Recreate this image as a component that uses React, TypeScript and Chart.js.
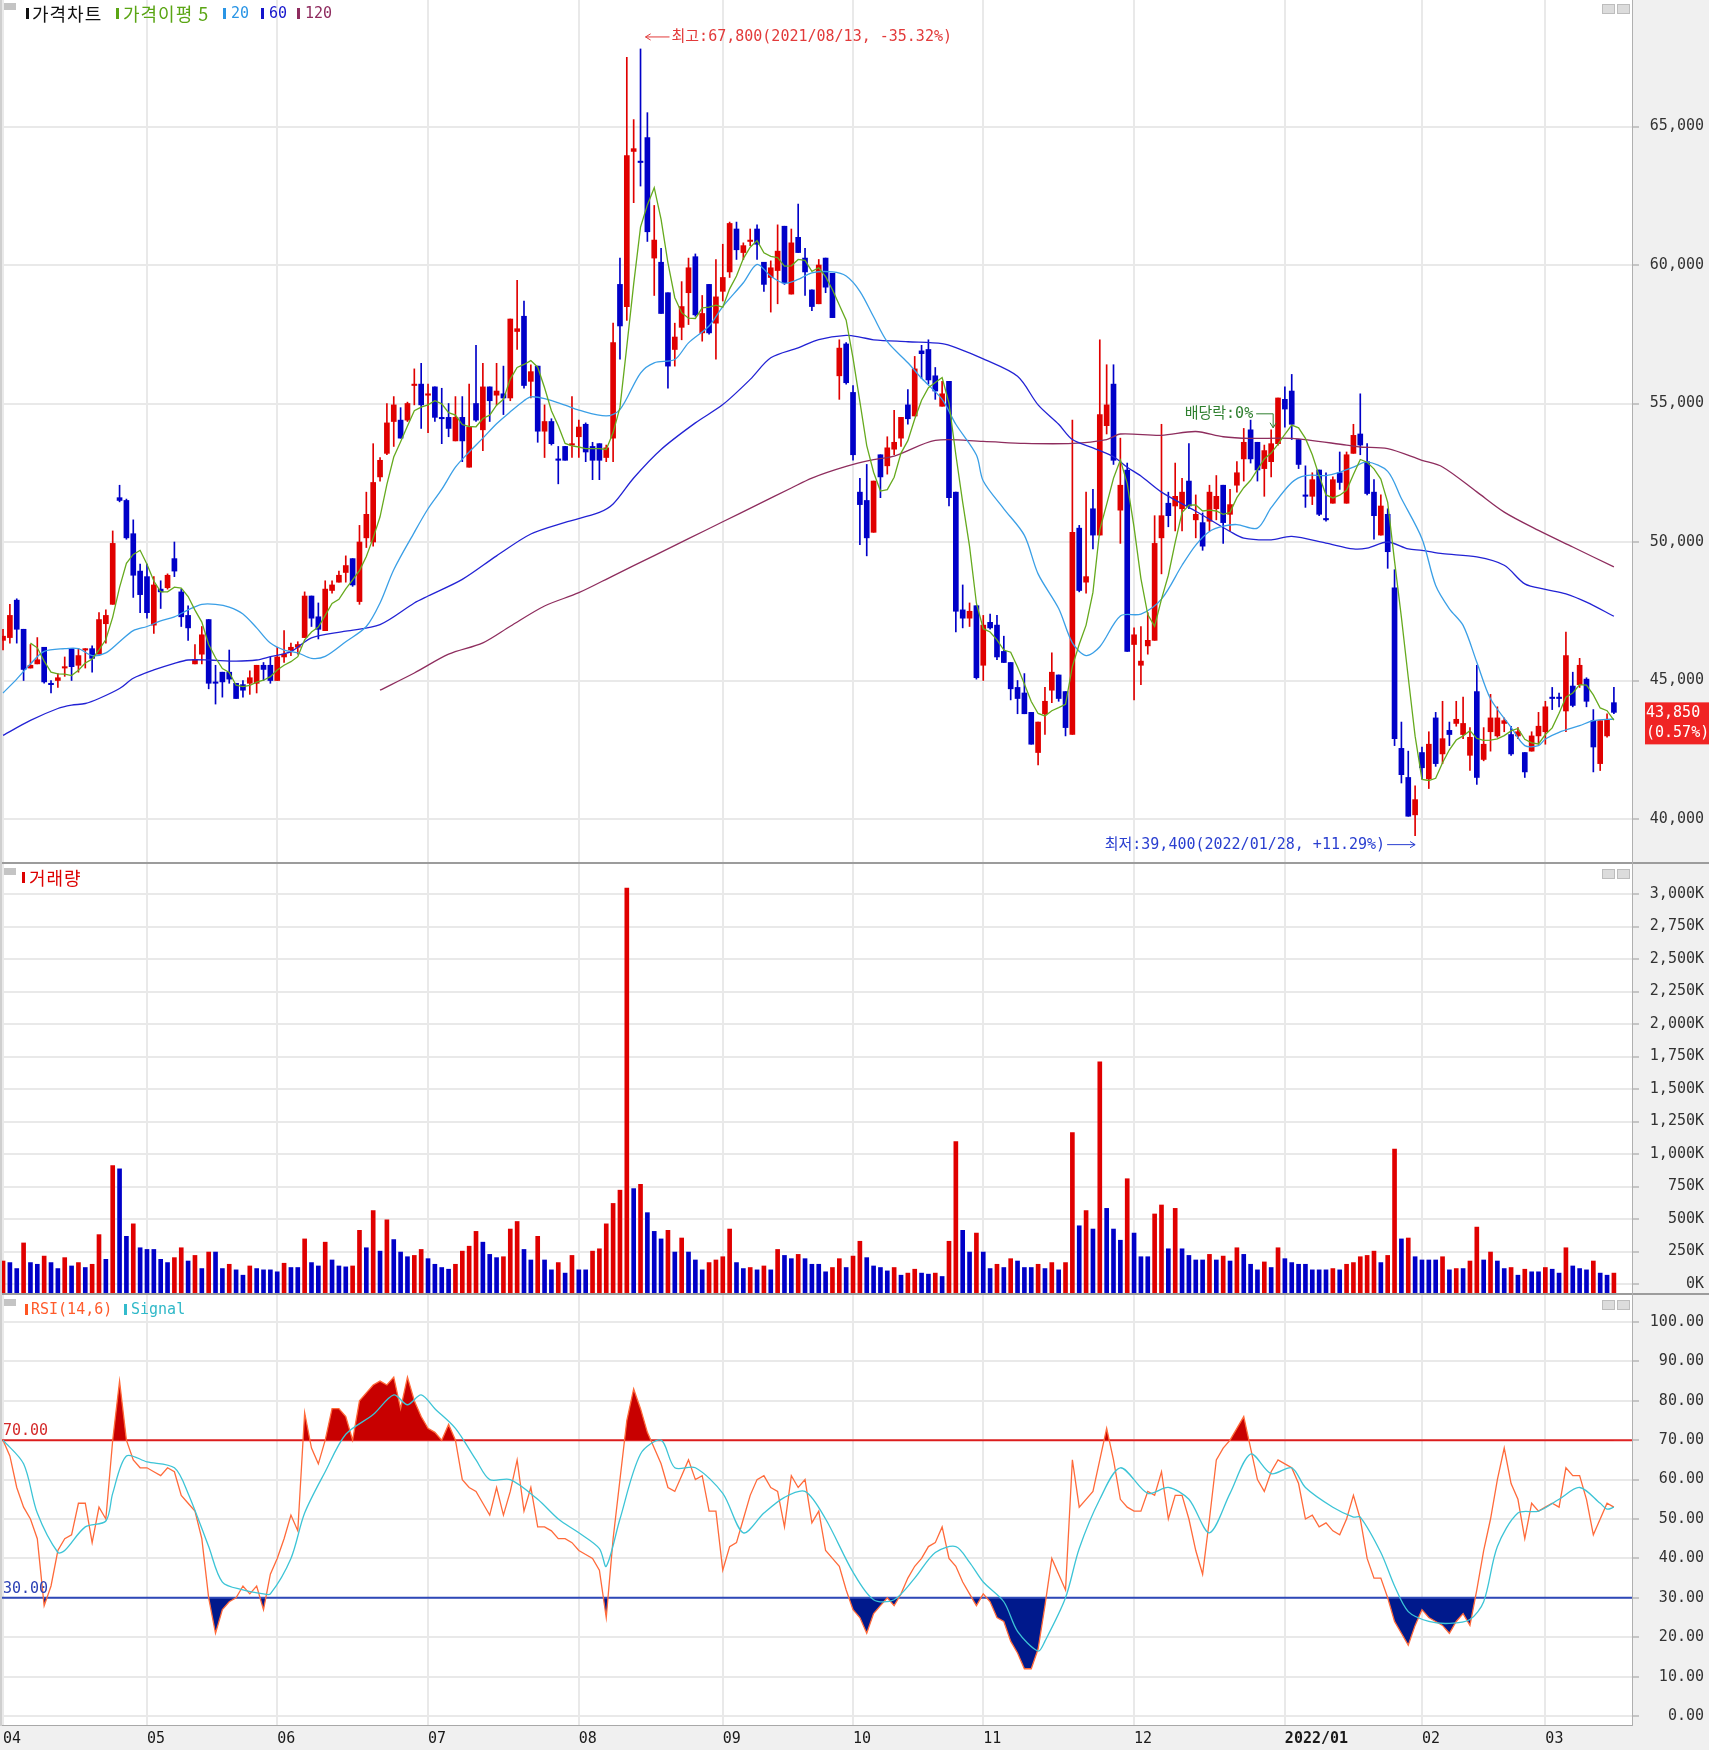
import React, { useEffect, useRef } from 'react';
import { Chart, registerables } from 'chart.js';

Chart.register(...registerables);

// ---------- month axis ----------
const MONTH_IDX = [0, 21, 40, 62, 84, 105, 124, 143, 165, 187, 207, 225];
const MONTH_LABELS = ['04', '05', '06', '07', '08', '09', '10', '11', '12', '2022/01', '02', '03'];

// ---------- daily candles (2021/04/02 .. 2022/03/17) ----------
const OPEN = [
  46450,46550,47900,46850,45450,45600,46200,44900,45000,45450,
  46150,45550,46100,46150,45950,47050,47750,51600,51500,50300,
  48950,48750,47000,48300,48350,49400,48200,47350,45600,45950,
  47200,44950,45300,45300,44900,44850,44900,44900,45550,45550,
  45000,45850,46100,46200,46550,48050,47300,46800,48250,48550,
  48900,49400,47850,50150,50000,52350,53200,54350,54400,54400,
  55650,55700,55300,55600,54500,54500,53650,54500,52700,55000,
  54050,55600,55300,55350,55200,57600,58150,55800,56350,54000,
  54350,53000,53450,53500,53800,54250,53450,53550,53050,53750,
  59300,58500,64100,63750,64600,60250,60100,59000,56950,57750,
  59000,60300,57550,59300,57900,59050,59750,61300,60450,60850,
  61300,60100,59550,59800,61400,58950,61000,60250,59100,58600,
  60250,59700,56000,57150,55400,51800,51500,50350,53150,52750,
  53350,53750,54950,54550,56900,56950,56000,54900,55800,51800,
  47550,47250,47700,45550,47100,47000,46050,45650,44750,44550,
  43850,42400,43800,44650,45200,44600,43050,50500,48550,51200,
  50250,54200,55700,51150,52600,46300,45550,46250,46450,50150,
  51400,51300,51200,52200,50800,50700,50750,51200,52050,51000,
  52050,53000,54050,53600,52650,52900,53550,55150,55450,53700,
  51700,51650,52600,50850,51400,52500,51400,53200,53900,52900,
  51800,50250,51000,48350,42550,41500,40150,42400,41450,43650,
  42350,43200,43450,43050,42300,44600,42150,43150,43000,43450,
  43050,43000,42400,42450,43000,43150,44400,44400,43900,44800,
  44850,45050,43550,42000,43000,44200,
];
const HIGH = [
  46850,47750,47950,46850,46300,46550,46200,45000,45250,45850,
  46150,46150,46150,46250,47450,47550,50400,52050,51550,50800,
  49200,49200,48750,48600,48850,50000,48300,47700,46300,46950,
  47200,45550,45300,46100,44900,45000,45350,45550,45650,45850,
  46200,46800,46350,46400,48200,48050,47800,48600,48600,48950,
  49500,49400,50600,51800,53550,53050,55000,55250,54850,55050,
  56250,56450,55700,55600,55550,55000,55250,55250,55700,57100,
  56450,55600,56450,56350,58050,59450,58700,56400,56350,54950,
  54450,53450,53450,55250,54400,54300,53600,53550,53500,57900,
  60250,67500,65250,67800,65500,62150,60600,59000,57900,59400,
  60250,60400,58900,59300,60200,60750,61550,61550,60800,61300,
  61450,60100,60150,61450,61400,61300,62200,60600,59100,60200,
  60250,59700,57300,57200,55650,52300,52800,52200,53150,53800,
  54750,54500,55500,56700,57100,57300,56300,55800,55800,51800,
  48450,47800,47700,47350,47400,47350,46600,45650,45000,45250,
  43850,43500,44750,46000,45200,44600,54400,50600,51800,51900,
  57300,56400,56400,53750,52850,46900,46950,47450,50950,54250,
  51800,52850,52300,53550,51700,51050,52050,52400,52050,51900,
  52900,54100,54400,53600,53500,54050,55200,55600,56050,53700,
  52750,52500,52600,52500,52350,53250,53250,54250,55350,53550,
  52250,51700,51200,49000,43500,42450,41200,42600,43150,43850,
  44250,43500,44250,44400,43300,45550,43300,44500,44050,43650,
  43350,43300,42400,43150,43850,44250,44750,44550,46750,45300,
  45800,45100,43950,43550,43800,44750,
];
const LOW = [
  46100,46350,46350,45000,45450,45600,44900,44550,44750,45150,
  45000,45300,45450,45300,45950,46350,47750,51450,50100,48000,
  47450,47250,46700,47600,48300,48750,46950,46450,45600,45600,
  44700,44150,44400,44900,44350,44400,44500,44550,45000,44900,
  45000,45650,45900,45950,46550,46950,46500,46800,48150,48550,
  48550,48400,47750,49800,49850,52200,53150,53450,53750,54350,
  54950,54100,53950,54350,53550,53800,53650,52900,52700,54350,
  53300,54350,54950,54600,55100,56950,55550,55200,53600,53050,
  53500,52100,52950,53050,53050,52900,52250,52250,52900,52900,
  56600,58000,62250,62850,60850,58900,58250,55550,56350,57300,
  57850,58150,57250,57500,56600,58700,59550,60200,60200,60700,
  60200,59050,58300,58600,59300,58950,60450,58900,58350,58600,
  59000,58100,55150,55700,52950,49900,49500,50350,51600,52450,
  53150,53450,54250,54550,55900,55700,55150,54900,51300,46750,
  46900,46950,45050,45000,46850,45750,45650,44300,43800,43800,
  42700,41950,43050,44200,44250,43000,43050,48200,48150,49750,
  50250,53900,52800,49950,46050,44300,44850,45950,46450,48850,
  50550,50400,50400,51200,50150,49700,50400,50800,49950,50400,
  51800,52200,52850,52200,51650,52350,53500,54150,53700,52650,
  51250,51350,50950,50750,51400,51900,51400,53200,53150,51700,
  50100,50250,49050,42650,41300,40100,39400,41450,41100,41900,
  42000,42650,43350,42900,41750,41250,42100,42450,42950,43150,
  42300,42900,41500,42450,42700,42700,43950,44050,43150,44050,
  44750,44050,41700,41750,42950,43800,
];
const CLOSE = [
  46600,47350,46850,45400,45550,45750,44950,44850,45100,45500,
  45500,45900,46150,45800,47200,47350,49950,51500,50150,48800,
  48100,47450,48450,48200,48800,48950,47300,46900,45750,46650,
  44900,44900,44950,45050,44350,44650,45100,45550,45400,45000,
  45850,45950,46200,46300,48050,47250,46850,48300,48450,48800,
  49150,48450,50000,51000,52150,52950,54300,54950,53750,55000,
  55700,54950,55350,54500,54450,54100,54500,53650,54150,54400,
  55600,55100,55450,55200,58050,57700,55650,56150,54000,54350,
  53550,52950,52950,53550,54150,53250,52950,52950,53400,57200,
  57800,63950,64200,63700,61200,60900,58250,56350,57400,58500,
  59900,58200,58250,57550,58850,59550,61500,60550,60700,60900,
  60750,59300,59900,60500,59350,60800,60450,59750,58500,60000,
  59200,58100,57000,55750,53150,51350,50150,52200,52350,53400,
  53600,54500,54450,56250,56800,55850,55450,55350,51600,47500,
  47250,47500,45100,47000,46900,45850,45650,44700,44350,43800,
  42700,43500,44250,45300,44350,43300,50350,48250,48750,50250,
  54600,54950,52950,52050,46050,46650,45700,46450,49950,50950,
  50950,51650,51800,51300,51000,49850,51800,51650,50700,51350,
  52500,53600,53000,52600,53300,53550,55200,54800,54250,52800,
  51650,52250,51000,50800,52250,52150,53150,53850,53500,51750,
  50950,51300,49650,42900,41600,40100,40700,41850,42700,42000,
  42900,43050,43600,43450,42950,41500,42700,43650,43650,43550,
  42350,43150,41700,43000,43350,44050,44350,44350,45900,44100,
  45550,44250,42600,43550,43600,43850,
];

// ---------- volume (thousand shares) ----------
const VOLUME_K = [
  177,165,119,316,165,152,215,165,119,203,
  139,165,127,152,380,190,912,886,367,463,
  279,266,266,190,165,203,279,177,220,119,
  246,246,119,152,109,68,139,119,109,109,
  94,160,127,127,347,165,139,322,185,139,
  132,139,413,279,565,253,494,342,246,210,
  220,266,195,152,127,114,152,253,291,405,
  322,228,203,210,423,481,266,185,367,185,
  109,165,84,220,109,109,253,271,463,620,
  722,3046,734,767,549,405,347,413,246,354,
  246,185,109,165,185,210,423,165,119,127,
  109,139,109,266,220,195,228,195,152,152,
  94,127,195,127,215,329,203,139,127,101,
  127,68,84,114,84,76,84,58,329,1096,
  413,246,392,246,119,152,127,195,177,127,
  127,152,119,165,109,165,1165,448,565,423,
  1709,582,423,337,810,392,210,210,539,608,
  271,582,271,220,185,185,228,185,215,177,
  279,228,152,109,170,127,279,195,165,152,
  152,109,109,109,119,109,152,165,210,220,
  253,165,220,1038,347,354,210,185,185,185,
  210,109,119,119,177,438,185,246,177,119,
  127,68,114,94,94,127,114,84,279,139,
  119,109,177,84,68,84,
];

// ---------- RSI(14) and its signal ----------
const RSI = [
  70,66,58,53,50,45,28,33,42,45,
  46,54,54,44,53,50,70,85,70,65,
  63,63,62,61,63,62,56,54,52,45,
  30,21,27,29,30,33,31,33,27,36,
  40,45,51,47,77,68,64,70,78,78,
  76,70,80,82,84,85,84,86,78,86,
  80,76,73,72,70,74,70,60,58,57,
  54,51,58,51,57,65,52,58,48,48,
  47,45,45,44,42,41,40,37,25,45,
  60,75,83,78,72,68,64,58,57,61,
  65,60,61,52,52,37,43,44,50,56,
  60,61,58,57,48,61,58,60,49,52,
  42,40,38,32,27,25,21,26,28,30,
  28,31,35,38,40,43,44,48,40,38,
  34,31,28,31,29,25,24,19,16,12,
  12,17,28,40,36,32,65,53,55,57,
  65,73,65,55,53,52,52,57,56,62,
  50,56,56,50,42,36,50,65,68,70,
  73,76,68,60,57,62,65,64,63,59,
  50,51,48,49,47,46,50,56,50,40,
  35,35,30,24,21,18,23,27,25,24,
  23,21,24,26,23,32,42,50,60,68,
  59,55,45,54,52,53,54,53,63,61,
  61,55,46,50,54,53,
];
const SIGNAL_IDX = [0,3,5,8,9,12,15,16,18,21,25,27,30,32,35,38,39,42,44,47,50,54,57,59,61,63,66,69,71,74,78,81,84,87,88,90,93,96,98,101,105,108,111,114,117,120,124,127,130,133,136,139,141,143,146,148,151,152,155,157,160,163,167,170,173,176,179,182,185,188,190,194,197,198,201,203,205,208,211,214,216,218,221,224,227,230,233,234,235];
const SIGNAL_VAL = [70,64,51.5,41.5,42,48,49.5,56.5,66,64.5,63,56.5,43,34,32,31,31,40,51.5,62,71.5,76.5,81.5,79,81.5,78,73,65,60,60,55,50,46.5,42.5,38,50,66.5,70,63,63,56.5,46.5,51.5,55.5,57,50,36.5,29.5,29.5,35,41.5,43,39,34,29,21.5,16.5,19,30,42.5,55,63,56.5,58,55,46.5,56.5,66.5,61.5,63,58,53,50.5,50.5,41.5,33,26.5,24,23.5,24.5,29,43,51.5,52,55,58,54,52.5,53];

// ---------- moving averages ----------
const MA20_IDX = [0,2,4,6,9,11,13,15,17,19,21,23,25,27,29,31,33,35,37,39,41,43,45,47,50,53,55,57,60,62,64,66,68,70,72,74,76,77,79,82,84,88,90,93,95,98,100,103,105,108,110,112,114,116,118,121,123,125,127,129,132,134,137,139,142,143,146,149,151,154,156,158,160,163,166,169,172,174,176,178,180,183,185,188,190,193,195,197,199,202,204,207,209,211,213,215,217,220,222,224,225,227,230,232,235];
const MA20_VAL = [44550,45050,45600,46050,46150,46150,45900,46000,46400,46800,46950,47150,47300,47550,47750,47750,47650,47400,46900,46350,46100,46000,45800,45870,46400,46950,47800,49000,50350,51200,51900,52700,53250,53750,54270,54700,55100,55240,55180,54940,54760,54550,54780,56100,56470,56590,57190,57800,58500,59360,60020,59600,59340,59480,59720,59750,59600,59050,58130,57230,56470,55910,55150,54250,53140,52200,51200,50240,48850,47600,46360,45900,46220,47330,47400,47940,49160,49890,50380,50570,50630,50500,51240,52150,52400,52400,52520,52700,52890,52550,51570,50120,48430,47590,46990,45660,44340,43310,42650,42650,42890,43130,43370,43550,43610];
const MA60_IDX = [0,4,8,10,12,14,17,19,22,25,27,30,34,37,39,42,45,50,55,60,62,67,72,77,82,87,89,92,96,101,105,109,112,116,119,123,125,127,132,137,139,143,148,151,154,156,159,162,164,166,169,174,179,181,185,188,193,197,199,202,205,207,210,215,219,222,225,228,231,235];
const MA60_VAL = [43020,43560,43990,44110,44170,44350,44710,45080,45380,45620,45740,45740,45700,45740,45860,46040,46540,46780,47020,47800,48050,48650,49500,50290,50710,51070,51370,52310,53340,54300,54960,55870,56650,57010,57310,57460,57400,57300,57230,57160,57020,56610,55980,54950,54250,53700,53400,53080,52700,52380,51800,51110,50380,50140,50080,50200,49960,49750,49780,50000,49750,49700,49580,49460,49160,48490,48290,48130,47830,47320];
const MA120_IDX = [55,60,65,70,74,79,84,89,95,100,105,110,115,118,123,127,130,136,143,149,156,161,163,169,174,178,182,188,196,198,202,207,210,215,219,224,229,235];
const MA120_VAL = [44650,45270,45950,46360,46960,47690,48170,48780,49510,50120,50730,51340,51950,52310,52730,52970,53100,53670,53630,53560,53560,53700,53900,53850,53990,53800,53740,53740,53500,53430,53370,52950,52710,51810,51080,50420,49820,49100];

// ---------- axes ----------
const PRICE_TICKS = [40000, 45000, 50000, 55000, 60000, 65000];
const VOLUME_TICKS = [0, 250, 500, 750, 1000, 1250, 1500, 1750, 2000, 2250, 2500, 2750, 3000];
const RSI_TICKS = [0, 10, 20, 30, 40, 50, 60, 70, 80, 90, 100];
const RSI_HIGH = 70;
const RSI_LOW = 30;
const HIGH_DATE = '2021/08/13';
const LOW_DATE = '2022/01/28';
const EXDIV_IDX = 185;
const EXDIV_TEXT = '배당락:0%';

const PRICE_MIN = 38448, PRICE_MAX = 69567;
const VOL_MIN = -69, VOL_MAX = 3231;
const RSI_MIN = -2.28, RSI_MAX = 106.85;
const X_MIN = -0.15, X_MAX = 237.64;

const MONO = '"DejaVu Sans Mono", "Noto Sans CJK KR", monospace';
const GRID = '#e9e9e9';
const UP = '#e00000';
const DOWN = '#0000c8';
const N = CLOSE.length;

const pts = (idx: number[], val: number[]) => idx.map((x, k) => ({ x, y: val[k] }));
const fmtN = (v: number) => v.toLocaleString('en-US');

function xAxis(labels: boolean): any {
  return {
    type: 'linear',
    min: X_MIN,
    max: X_MAX,
    offset: false,
    afterBuildTicks: (s: any) => { s.ticks = MONTH_IDX.map((v) => ({ value: v })); },
    afterFit: (s: any) => {
      s.height = labels ? 25 : 0;
      s.paddingLeft = 0;
      s.paddingRight = 0;
      s.paddingTop = 0;
      s.paddingBottom = 0;
    },
    grid: { color: GRID, lineWidth: 2, drawTicks: false, offset: false },
    border: { display: false },
    ticks: labels
      ? {
          autoSkip: false,
          maxRotation: 0,
          minRotation: 0,
          align: 'start',
          labelOffset: 0,
          padding: 5,
          color: '#1a1a1a',
          font: (c: any) => ({ family: MONO, size: 15, weight: c && c.tick && c.tick.value === 187 ? 'bold' : 'normal' }),
          callback: (v: number) => { const k = MONTH_IDX.indexOf(v); return k >= 0 ? MONTH_LABELS[k] : ''; },
        }
      : { display: false },
  };
}

function yAxis(min: number, max: number, ticks: number[], fmt: (v: number) => string): any {
  return {
    position: 'right',
    min,
    max,
    afterBuildTicks: (s: any) => { s.ticks = ticks.map((v) => ({ value: v })); },
    afterFit: (s: any) => {
      s.width = 72;
      s.paddingTop = 0;
      s.paddingBottom = 0;
      s.paddingLeft = 0;
      s.paddingRight = 0;
    },
    grid: { color: GRID, lineWidth: 2, tickColor: '#9a9a9a', tickLength: 7, tickWidth: 1 },
    border: { display: false },
    ticks: { crossAlign: 'far', padding: 9, color: '#333', font: { family: MONO, size: 15 }, callback: (v: number) => fmt(v) },
  };
}

const bgPlugin = {
  id: 'whiteArea',
  beforeDraw(chart: any) {
    const { ctx, chartArea: a } = chart;
    ctx.save();
    ctx.fillStyle = '#ffffff';
    ctx.fillRect(a.left, a.top, a.right - a.left, a.bottom - a.top);
    ctx.restore();
  },
};

function arrow(ctx: any, x1: number, y1: number, x2: number, y2: number) {
  ctx.beginPath();
  ctx.moveTo(x1, y1);
  ctx.lineTo(x2, y2);
  ctx.stroke();
  const a = Math.atan2(y2 - y1, x2 - x1);
  ctx.beginPath();
  ctx.moveTo(x2 - 6 * Math.cos(a - 0.55), y2 - 6 * Math.sin(a - 0.55));
  ctx.lineTo(x2, y2);
  ctx.lineTo(x2 - 6 * Math.cos(a + 0.55), y2 - 6 * Math.sin(a + 0.55));
  ctx.stroke();
}

const baseOptions = (): any => ({
  animation: false,
  responsive: false,
  devicePixelRatio: 1,
  events: [],
  layout: { padding: { left: 2, right: 5, top: 0, bottom: 0 } },
  plugins: { legend: { display: false }, tooltip: { enabled: false } },
});

function makePrice(canvas: HTMLCanvasElement) {
  const candleColors = CLOSE.map((c, i) => (c >= OPEN[i] ? UP : DOWN));
  const ma5 = CLOSE.map((_, i) => ({
    x: i,
    y: i >= 4 ? CLOSE.slice(i - 4, i + 1).reduce((s, v) => s + v, 0) / 5 : null,
  }));
  const last = CLOSE[N - 1];
  const hiIdx = HIGH.indexOf(Math.max(...HIGH));
  const loIdx = LOW.indexOf(Math.min(...LOW));
  const hiPct = ((last / HIGH[hiIdx] - 1) * 100).toFixed(2);
  const loPct = ((last / LOW[loIdx] - 1) * 100).toFixed(2);
  const dayPct = ((last / CLOSE[N - 2] - 1) * 100).toFixed(2);

  const notes = {
    id: 'priceNotes',
    afterDatasetsDraw(chart: any) {
      const { ctx, scales } = chart;
      const x = scales.x, y = scales.y;
      ctx.save();
      ctx.font = `15px ${MONO}`;
      ctx.textBaseline = 'middle';
      ctx.lineWidth = 1;
      // highest
      const hx = x.getPixelForValue(hiIdx);
      const hy = y.getPixelForValue(HIGH[hiIdx]) - 12;
      ctx.strokeStyle = '#e23a3a';
      ctx.fillStyle = '#e23a3a';
      arrow(ctx, hx + 29, hy, hx + 5, hy);
      ctx.textAlign = 'left';
      ctx.fillText(`최고:${fmtN(HIGH[hiIdx])}(${HIGH_DATE}, ${hiPct}%)`, hx + 31, hy);
      // lowest
      const lx = x.getPixelForValue(loIdx);
      const ly = y.getPixelForValue(LOW[loIdx]) + 9;
      ctx.strokeStyle = '#2a3fd0';
      ctx.fillStyle = '#2a3fd0';
      arrow(ctx, lx - 28, ly, lx, ly);
      ctx.textAlign = 'right';
      ctx.fillText(`최저:${fmtN(LOW[loIdx])}(${LOW_DATE}, +${loPct}%)`, lx - 30, ly);
      // ex-dividend
      const ex = x.getPixelForValue(EXDIV_IDX) + 2;
      const ey = y.getPixelForValue(HIGH[EXDIV_IDX]);
      ctx.strokeStyle = '#2f7f2f';
      ctx.fillStyle = '#2f7f2f';
      ctx.beginPath();
      ctx.moveTo(ex - 17, ey - 16);
      ctx.lineTo(ex, ey - 16);
      ctx.stroke();
      arrow(ctx, ex, ey - 16, ex, ey - 2);
      ctx.textAlign = 'right';
      ctx.fillText(EXDIV_TEXT, ex - 20, ey - 16);
      ctx.restore();
    },
    afterDraw(chart: any) {
      const { ctx, scales, chartArea } = chart;
      const yc = scales.y.getPixelForValue(last);
      const bx = chartArea.right + 13;
      ctx.save();
      ctx.fillStyle = '#f02424';
      ctx.fillRect(bx, yc - 10, 64, 42);
      ctx.fillStyle = '#ffffff';
      ctx.font = `15px ${MONO}`;
      ctx.textBaseline = 'middle';
      ctx.textAlign = 'left';
      ctx.fillText(fmtN(last), bx + 1, yc + 1);
      ctx.fillText(`(${dayPct}%)`, bx + 1, yc + 21);
      ctx.restore();
    },
  };

  return new Chart(canvas, {
    type: 'bar',
    data: {
      datasets: [
        { type: 'line', label: '5', data: ma5 as any, borderColor: '#66aa1e', borderWidth: 1.3, pointRadius: 0, tension: 0, order: 0 },
        { type: 'line', label: '20', data: pts(MA20_IDX, MA20_VAL), borderColor: '#3a9fe6', borderWidth: 1.3, pointRadius: 0, tension: 0.3, order: 0 },
        { type: 'line', label: '60', data: pts(MA60_IDX, MA60_VAL), borderColor: '#2222d4', borderWidth: 1.3, pointRadius: 0, tension: 0.3, order: 0 },
        { type: 'line', label: '120', data: pts(MA120_IDX, MA120_VAL), borderColor: '#8e2d5e', borderWidth: 1.3, pointRadius: 0, tension: 0.3, order: 0 },
        { type: 'bar', label: 'body', data: OPEN.map((o, i) => ({ x: i, y: [o, CLOSE[i]] })) as any, backgroundColor: candleColors, barThickness: 5, minBarLength: 1, grouped: false, order: 1 },
        { type: 'bar', label: 'wick', data: LOW.map((l, i) => ({ x: i, y: [l, HIGH[i]] })) as any, backgroundColor: candleColors, barThickness: 1, grouped: false, order: 2 },
      ],
    },
    options: {
      ...baseOptions(),
      scales: { x: xAxis(false), y: yAxis(PRICE_MIN, PRICE_MAX, PRICE_TICKS, fmtN) },
    },
    plugins: [bgPlugin, notes],
  } as any);
}

function makeVolume(canvas: HTMLCanvasElement) {
  const colors = VOLUME_K.map((v, i) => (i === 0 || v > VOLUME_K[i - 1] ? UP : DOWN));
  return new Chart(canvas, {
    type: 'bar',
    data: {
      datasets: [
        { label: '거래량', data: VOLUME_K.map((v, i) => ({ x: i, y: v })) as any, backgroundColor: colors, barThickness: 4, grouped: false, base: VOL_MIN } as any,
      ],
    },
    options: {
      ...baseOptions(),
      scales: { x: xAxis(false), y: yAxis(VOL_MIN, VOL_MAX, VOLUME_TICKS, (v) => fmtN(v) + 'K') },
    },
    plugins: [bgPlugin],
  } as any);
}

function makeRsi(canvas: HTMLCanvasElement) {
  const rsiPts = RSI.map((v, i) => ({ x: i, y: v }));
  const labels = {
    id: 'rsiLevels',
    afterDatasetsDraw(chart: any) {
      const { ctx, scales, chartArea } = chart;
      ctx.save();
      ctx.font = `15px ${MONO}`;
      ctx.textBaseline = 'middle';
      ctx.textAlign = 'left';
      ctx.fillStyle = '#d42a2a';
      ctx.fillText(RSI_HIGH.toFixed(2), chartArea.left + 1, scales.y.getPixelForValue(RSI_HIGH) - 9);
      ctx.fillStyle = '#2a40b4';
      ctx.fillText(RSI_LOW.toFixed(2), chartArea.left + 1, scales.y.getPixelForValue(RSI_LOW) - 9);
      ctx.restore();
    },
  };
  return new Chart(canvas, {
    type: 'line',
    data: {
      datasets: [
        { label: 'Signal', data: pts(SIGNAL_IDX, SIGNAL_VAL), borderColor: '#3cc4d6', borderWidth: 1.3, pointRadius: 0, tension: 0.3, fill: false, order: 0 },
        { label: 'RSI', data: rsiPts, borderColor: '#ff6a3a', borderWidth: 1.3, pointRadius: 0, tension: 0, order: 1,
          fill: { target: { value: RSI_HIGH }, above: '#c80000', below: 'rgba(0,0,0,0)' } },
        { label: 'hi', data: [{ x: X_MIN, y: RSI_HIGH }, { x: X_MAX, y: RSI_HIGH }], borderColor: '#e02424', borderWidth: 2, pointRadius: 0, fill: false, order: 2 },
        { label: 'lo', data: [{ x: X_MIN, y: RSI_LOW }, { x: X_MAX, y: RSI_LOW }], borderColor: '#2e48b8', borderWidth: 2, pointRadius: 0, fill: false, order: 3 },
        { label: 'RSI-low', data: rsiPts, borderColor: 'rgba(0,0,0,0)', borderWidth: 0, pointRadius: 0, tension: 0, order: 4,
          fill: { target: { value: RSI_LOW }, above: 'rgba(0,0,0,0)', below: '#00198c' } },
      ],
    },
    options: {
      ...baseOptions(),
      scales: { x: xAxis(true), y: yAxis(RSI_MIN, RSI_MAX, RSI_TICKS, (v) => v.toFixed(2)) },
    },
    plugins: [bgPlugin, labels],
  } as any);
}

const abs = (s: any): any => ({ position: 'absolute', ...s });

function LegendBar({ left, top, color }: any) {
  return <div style={abs({ left, top, width: 3, height: 11, background: color })} />;
}
function LegendText({ left, top, color, ko, children }: any) {
  return (
    <div
      style={abs({
        left,
        top,
        color,
        whiteSpace: 'nowrap',
        lineHeight: '20px',
        fontFamily: ko ? '"Noto Sans CJK KR", sans-serif' : MONO,
        fontSize: ko ? 18 : 15,
        letterSpacing: ko ? '1px' : '0px',
      })}
    >
      {children}
    </div>
  );
}
function PanelIcons({ top }: any) {
  const box = (left: number) => (
    <div style={abs({ left, top, width: 11, height: 8, background: '#dcdcdc', border: '1px solid #bdbdbd' })} />
  );
  return (
    <>
      <div style={abs({ left: 4, top: top - 1, width: 12, height: 7, background: '#c4c4c4' })} />
      {box(1602)}
      {box(1617)}
    </>
  );
}

export default function App() {
  const priceRef = useRef<HTMLCanvasElement>(null);
  const volRef = useRef<HTMLCanvasElement>(null);
  const rsiRef = useRef<HTMLCanvasElement>(null);

  useEffect(() => {
    document.body.style.margin = '0';
    document.body.style.background = '#f0f0f0';
    const charts = [makePrice(priceRef.current!), makeVolume(volRef.current!), makeRsi(rsiRef.current!)];
    return () => charts.forEach((c) => c.destroy());
  }, []);

  return (
    <div style={abs({ left: 0, top: 0, width: 1709, height: 1750, background: '#f0f0f0', overflow: 'hidden' })}>
      <canvas ref={priceRef} width={1709} height={862} style={abs({ left: 0, top: 0, width: 1709, height: 862 })} />
      <canvas ref={volRef} width={1709} height={429} style={abs({ left: 0, top: 864, width: 1709, height: 429 })} />
      <canvas ref={rsiRef} width={1709} height={455} style={abs({ left: 0, top: 1295, width: 1709, height: 455 })} />

      {/* frame lines */}
      <div style={abs({ left: 0, top: 862, width: 1709, height: 2, background: '#9c9c9c' })} />
      <div style={abs({ left: 0, top: 1293, width: 1709, height: 2, background: '#9c9c9c' })} />
      <div style={abs({ left: 0, top: 1725, width: 1633, height: 1, background: '#a8a8a8' })} />
      <div style={abs({ left: 1632, top: 0, width: 1, height: 1726, background: '#b0b0b0' })} />
      <div style={abs({ left: 0, top: 0, width: 2, height: 1726, background: '#cfcfcf' })} />

      {/* price legend */}
      <PanelIcons top={4} />
      <LegendBar left={26} top={8} color="#111" />
      <LegendText left={32} top={3} color="#111" ko>가격차트</LegendText>
      <LegendBar left={116} top={8} color="#5aa514" />
      <LegendText left={123} top={3} color="#5aa514" ko>가격이평 5</LegendText>
      <LegendBar left={223} top={8} color="#2a95e5" />
      <LegendText left={231} top={3} color="#2a95e5">20</LegendText>
      <LegendBar left={261} top={8} color="#1515cc" />
      <LegendText left={269} top={3} color="#1515cc">60</LegendText>
      <LegendBar left={297} top={8} color="#8e2b5e" />
      <LegendText left={305} top={3} color="#8e2b5e">120</LegendText>

      {/* volume legend */}
      <PanelIcons top={869} />
      <LegendBar left={22} top={872} color="#dd0000" />
      <LegendText left={29} top={867} color="#dd0000" ko>거래량</LegendText>

      {/* rsi legend */}
      <PanelIcons top={1300} />
      <LegendBar left={25} top={1304} color="#ff5522" />
      <LegendText left={31} top={1299} color="#ff5a2a">RSI(14,6)</LegendText>
      <LegendBar left={124} top={1304} color="#33bbcc" />
      <LegendText left={131} top={1299} color="#2fb8c8">Signal</LegendText>
    </div>
  );
}
